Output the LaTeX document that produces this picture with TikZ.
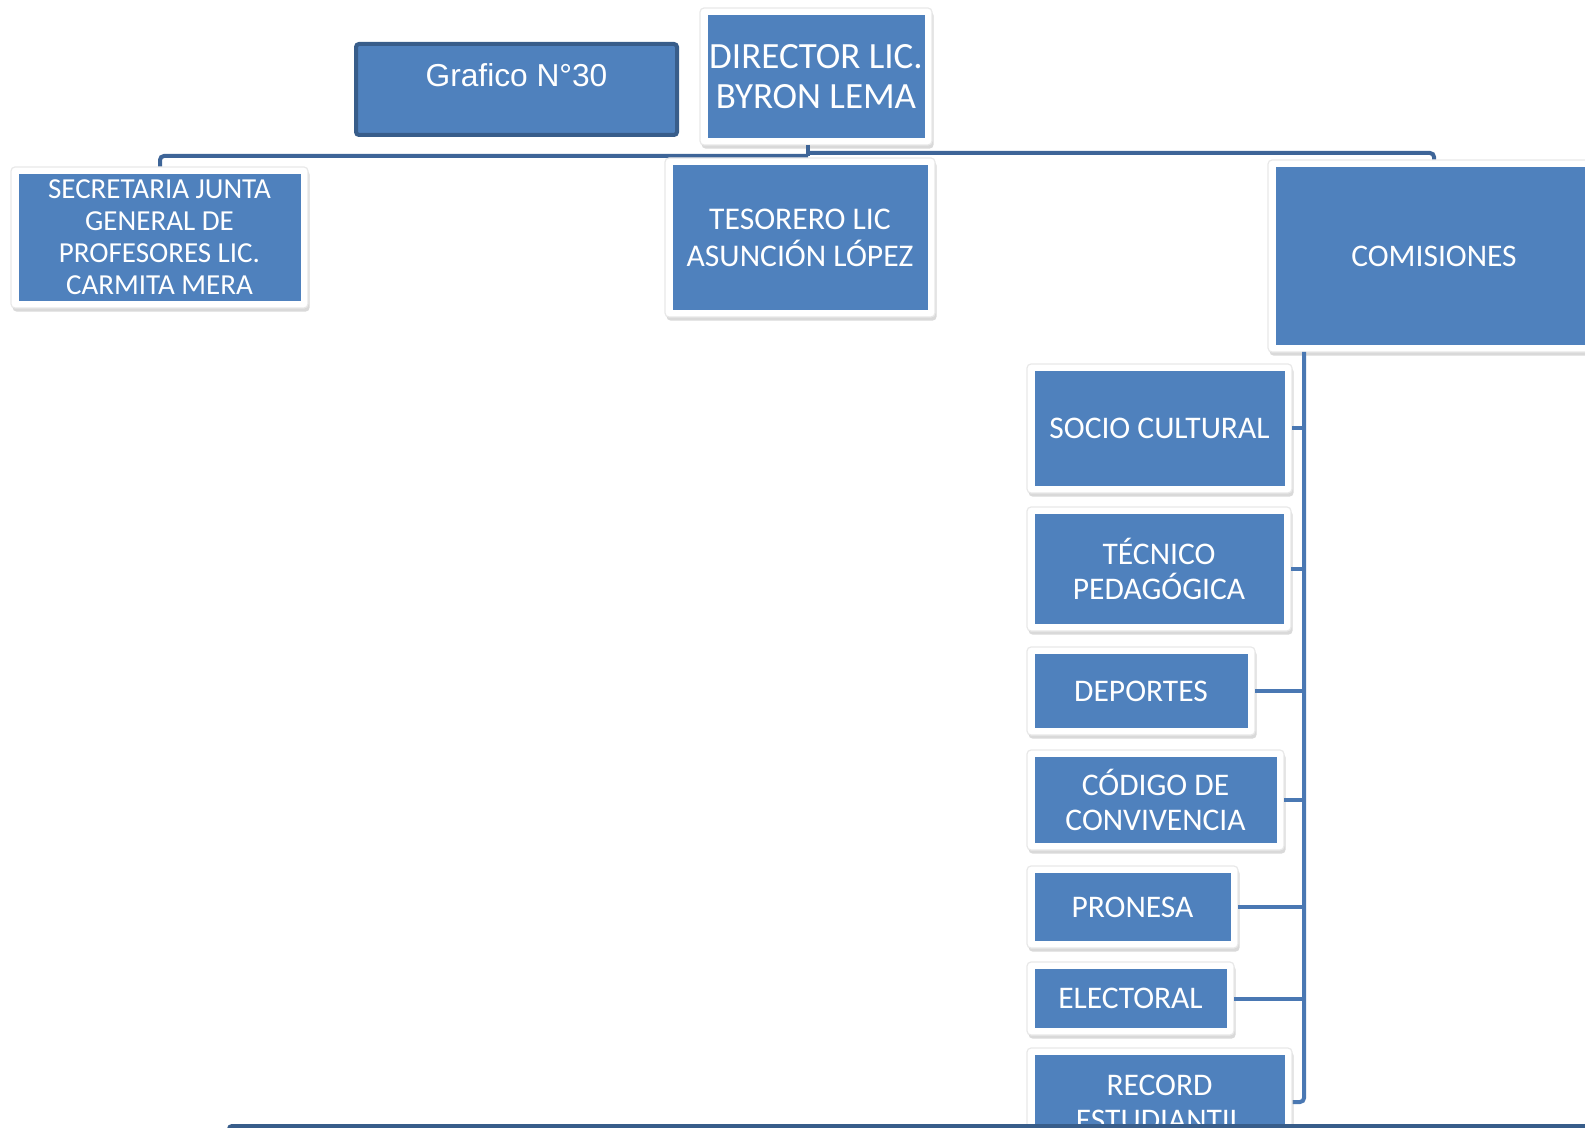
\documentclass[tikz,border=0pt]{standalone}
\usepackage{fontspec}
\setmainfont{Carlito}
\newfontfamily\arialf{Liberation Sans}
\usetikzlibrary{shadows}
\definecolor{boxblue}{HTML}{4F81BD}
\definecolor{darkline}{HTML}{385D8A}
\definecolor{connA}{HTML}{3E6598}
\definecolor{connB}{HTML}{4A78B3}
\newcommand\orgbox[7]{%
  \node[frame, minimum width={(#4-#2)*0.5pt}, minimum height={(#5-#3)*0.5pt}] (#1f) at ({(#2+#4)/2},{(#3+#5)/2}) {};
  \node[bluebox, minimum width={(#4-#2-15)*0.5pt}, minimum height={(#5-#3-14)*0.5pt}, #6] (#1) at (#1f.center) {#7};
}
\begin{document}
\begin{tikzpicture}[x=0.5pt,y=-0.5pt,
  frame/.style={fill=white, draw=black!9, line width=0.6pt, rounded corners=2pt, inner sep=0pt, outer sep=0pt,
    drop shadow={shadow xshift=0.8pt, shadow yshift=-1.8pt, opacity=0.3}},
  bluebox/.style={fill=boxblue, text=white, align=center, inner sep=0pt, outer sep=0pt},
  conn/.style={line width=2pt},
  childfont/.style={font=\fontsize{15.75pt}{17.5pt}\selectfont}]
\useasboundingbox (0,0) rectangle (1585,1128);
\clip (0,0) rectangle (1585,1128);

% junction coordinates
\coordinate (jl) at (808,156);
\coordinate (jr) at (808,153);
\coordinate (vb) at (1304,1102);

% title box
\node[draw=darkline, line width=2pt, fill=boxblue, rounded corners=1.5pt,
  minimum width=160.5pt, minimum height=45.5pt, inner sep=0pt] (graf) at (516.5,89.5) {};
\node[text=white, font=\arialf\fontsize{15.85pt}{18pt}\selectfont, inner sep=0pt] (graft) at (516.5,75) {Grafico N°30};

% frames and boxes
\orgbox{dir}{700}{8}{932}{145}{font=\fontsize{18.5pt}{20pt}\selectfont}{DIRECTOR LIC.\\BYRON LEMA}

% top connectors (behind lower boxes)
\draw[connA, conn] (jl |- dirf.south) -- (jl);
\draw[connA, conn, rounded corners=2pt] (jl) -- (jl -| 160,0) -- (160,170);
\draw[connA, conn, rounded corners=2pt] (jr) -- (jr -| 1434,0) -- (1434,165);

\orgbox{sec}{11}{167}{308}{308}{font=\fontsize{14.5pt}{16pt}\selectfont}{SECRETARIA JUNTA\\GENERAL DE\\PROFESORES LIC.\\CARMITA MERA}
\orgbox{tes}{665}{158}{935}{317}{font=\fontsize{15.8pt}{18.5pt}\selectfont}{TESORERO LIC\\ASUNCIÓN LÓPEZ}
\orgbox{com}{1268}{160}{1600}{352}{childfont}{COMISIONES}

% right-hand connectors
\draw[connB, conn, rounded corners=2pt] (vb |- comf.south) -- (vb) -- (1285,1102);

\orgbox{soc}{1027}{364}{1292}{493}{childfont}{SOCIO CULTURAL}
\orgbox{tec}{1027}{507}{1291}{631}{childfont}{TÉCNICO\\PEDAGÓGICA}
\orgbox{dep}{1027}{647}{1255}{735}{childfont}{DEPORTES}
\orgbox{cod}{1027}{750}{1284}{850}{childfont}{CÓDIGO DE\\CONVIVENCIA}
\orgbox{pro}{1027}{866}{1238}{948}{childfont}{PRONESA}
\orgbox{ele}{1027}{962}{1234}{1035}{childfont}{ELECTORAL}
\orgbox{rec}{1027}{1048}{1292}{1158}{childfont}{RECORD\\ESTUDIANTIL}

\foreach \n in {soc,tec,dep,cod,pro,ele}
  \draw[connB, conn] ({\n f}.east) -- ({\n f}.east -| vb);

% bottom band
\draw[darkline, line width=2pt, fill=boxblue, rounded corners=1.5pt] (229,1126) rectangle (1620,1190);
\end{tikzpicture}
\end{document}
